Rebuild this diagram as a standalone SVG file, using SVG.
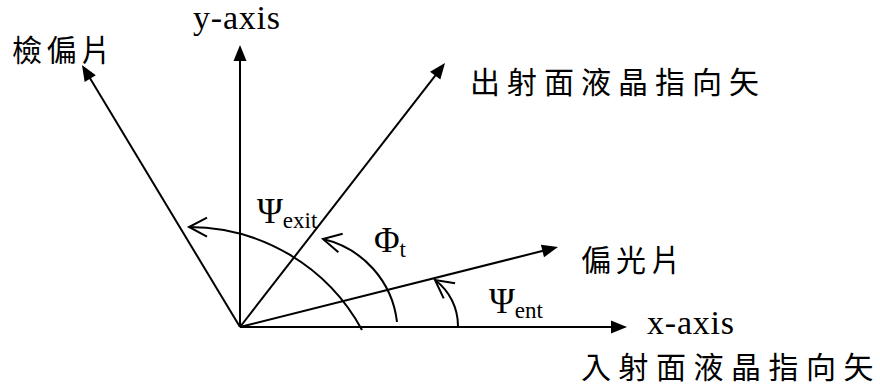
<svg xmlns="http://www.w3.org/2000/svg" width="880" height="390" viewBox="0 0 880 390">
<style>
.ln{stroke:#000;stroke-width:2;fill:none}
.ax{marker-end:url(#fill)}
.arc{marker-end:url(#open)}
.lat{font-family:"Liberation Serif","Times New Roman",serif;font-size:34px;fill:#000}
.sym{font-family:"Liberation Serif","Times New Roman",serif;font-size:35px;fill:#000}
.sub{font-family:"Liberation Serif","Times New Roman",serif;font-size:23px;fill:#000}
.cjk{font-family:"Liberation Serif","Noto Sans CJK TC",serif;font-size:30px;fill:#000}
</style>
<defs>
<marker id="fill" markerUnits="userSpaceOnUse" markerWidth="20" markerHeight="16" refX="8" refY="6.5" orient="auto" overflow="visible">
<path d="M0 0 L16 6.5 L0 13 Z" fill="#000"/>
</marker>
<marker id="open" markerUnits="userSpaceOnUse" markerWidth="24" markerHeight="24" refX="20" refY="10" orient="auto" overflow="visible">
<path d="M2 0.5 L20 10 L2 19.5" fill="none" stroke="#000" stroke-width="2"/>
</marker>
</defs>
<g id="connectors">
<line class="ln ax" x1="240" y1="327" x2="619" y2="327"/>
<line class="ln ax" x1="240" y1="327" x2="240" y2="53"/>
<line class="ln ax" x1="240" y1="327" x2="440.1" y2="69.3"/>
<line class="ln ax" x1="240" y1="327" x2="550.2" y2="249"/>
<line class="ln ax" x1="240" y1="327" x2="86.1" y2="71.8"/>
<path class="ln arc" d="M362 330 A197 197 0 0 0 189 227"/>
<path class="ln arc" d="M397 322 A96.6 96.6 0 0 0 323 239"/>
<path class="ln arc" d="M458 326 A57.5 57.5 0 0 0 435 280"/>
</g>
<g id="y-axis"><text class="lat" x="193" y="29" letter-spacing="0.8">y-axis</text></g>
<g id="x-axis"><text class="lat" x="647" y="334" letter-spacing="0.8">x-axis</text></g>
<g id="analyzer"><text class="cjk" x="12" y="61" letter-spacing="4.5">檢偏片</text></g>
<g id="exit-director"><text class="cjk" x="470" y="93" letter-spacing="7">出射面液晶指向矢</text></g>
<g id="polarizer"><text class="cjk" x="581" y="271" letter-spacing="5">偏光片</text></g>
<g id="entry-director"><text class="cjk" x="581" y="378" letter-spacing="7.5">入射面液晶指向矢</text></g>
<g id="psi-exit"><text class="sym" x="257" y="223">Ψ<tspan class="sub" y="228">exit</tspan></text></g>
<g id="phi-t"><text class="sym" x="374" y="252">Φ<tspan class="sub" y="257">t</tspan></text></g>
<g id="psi-ent"><text class="sym" x="489" y="313">Ψ<tspan class="sub" y="318">ent</tspan></text></g>
</svg>
